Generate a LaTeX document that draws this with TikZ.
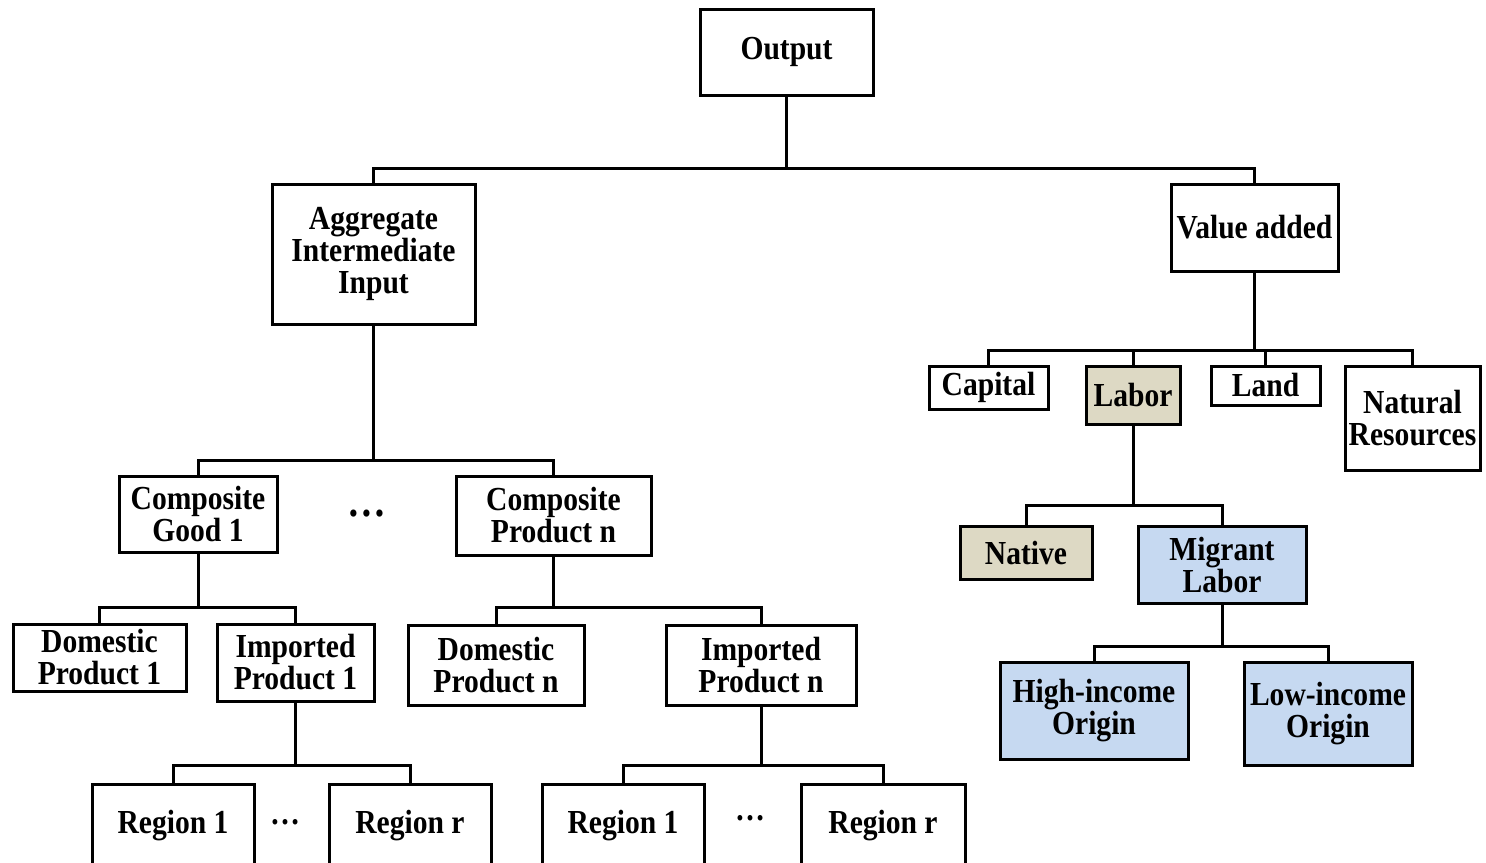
\documentclass[tikz,border=0pt]{standalone}
\usepackage{fontspec}
\setmainfont{Liberation Serif}[FakeStretch=0.88]
\definecolor{beige}{HTML}{DDD9C4}
\definecolor{lblue}{HTML}{C6D9F1}
\tikzset{
  box/.style={draw=black, line width=1.5pt, fill=white, inner sep=0pt, align=center,
    font=\fontsize{16.8}{16}\selectfont\bfseries},
  conn/.style={line width=1.5pt},
  dots/.style={font=\fontsize{17}{16}\selectfont\bfseries},
}
\begin{document}
\begin{tikzpicture}[x=0.5pt,y=-0.5pt]
\useasboundingbox (0,0) rectangle (1486,862);
\clip (0,0) rectangle (1486,862);
% top
\node[box, minimum width=86.5pt, minimum height=43pt] (out) at (786.5,52) {Output};
\node[box, minimum width=101.5pt, minimum height=70pt] (agg) at (373.5,254) {Aggregate\\Intermediate\\Input};
\node[box, minimum width=83.5pt, minimum height=43.5pt] (va) at (1254.5,227.5) {Value added};
% value added branch
\node[box, minimum width=59.5pt, minimum height=21.5pt] (cap) at (988.5,387.5) {Capital};
\node[box, fill=beige, minimum width=47pt, minimum height=29pt] (lab) at (1133,395) {Labor};
\node[box, minimum width=54.5pt, minimum height=19.5pt] (land) at (1265.5,385.5) {Land};
\node[box, minimum width=67.5pt, minimum height=52pt] (nat) at (1412.5,418) {Natural\\Resources};
\node[box, fill=beige, minimum width=66pt, minimum height=26.5pt] (nati) at (1026,552.5) {Native};
\node[box, fill=lblue, minimum width=84pt, minimum height=38.5pt] (mig) at (1222,564.5) {Migrant\\Labor};
\node[box, fill=lblue, minimum width=94pt, minimum height=48.5pt] (hi) at (1094,710.5) {High-income\\Origin};
\node[box, fill=lblue, minimum width=84pt, minimum height=51.5pt] (lo) at (1328,713.5) {Low-income\\Origin};
% intermediate branch
\node[box, minimum width=79pt, minimum height=38pt] (cg1) at (198,514) {Composite\\Good 1};
\node[box, minimum width=97.5pt, minimum height=39.5pt] (cpn) at (553.5,515.5) {Composite\\Product n};
\node[dots, font=\fontsize{22}{22}\selectfont\bfseries] (d1) at (367,514) {…};
\node[box, minimum width=86.5pt, minimum height=33.5pt] (dp1) at (99.5,657.5) {Domestic\\Product 1};
\node[box, minimum width=78.5pt, minimum height=38.5pt] (ip1) at (295.5,662.5) {Imported\\Product 1};
\node[box, minimum width=88pt, minimum height=40pt] (dpn) at (496,665) {Domestic\\Product n};
\node[box, minimum width=95pt, minimum height=40pt] (ipn) at (761,665) {Imported\\Product n};
\node[box, minimum width=81pt, minimum height=42pt] (r1a) at (173,826) {Region 1};
\node[box, minimum width=81pt, minimum height=42pt] (rra) at (410,826) {Region r};
\node[box, minimum width=81pt, minimum height=42pt] (r1b) at (623,826) {Region 1};
\node[box, minimum width=82pt, minimum height=42pt] (rrb) at (883,826) {Region r};
\node[dots] (d2) at (285,822) {…};
\node[dots] (d3) at (750,818) {…};
% connectors
\draw[conn] (out.south) -- (out.south |- 0,168) -| (agg.north);
\draw[conn] (out.south |- 0,168) -| (va.north);
\draw[conn] (va.south) -- (va.south |- 0,350) -| (cap.north);
\draw[conn] (va.south |- 0,350) -| (lab.north);
\draw[conn] (va.south |- 0,350) -| (land.north);
\draw[conn] (va.south |- 0,350) -| (nat.north);
\draw[conn] (lab.south) -- (lab.south |- 0,505) -| (nati.north);
\draw[conn] (lab.south |- 0,505) -| (mig.north);
\draw[conn] (mig.south) -- (mig.south |- 0,646) -| (hi.north);
\draw[conn] (mig.south |- 0,646) -| (lo.north);
\draw[conn] (agg.south) -- (agg.south |- 0,460) -| (cg1.north);
\draw[conn] (agg.south |- 0,460) -| (cpn.north);
\draw[conn] (cg1.south) -- (cg1.south |- 0,607) -| (dp1.north);
\draw[conn] (cg1.south |- 0,607) -| (ip1.north);
\draw[conn] (cpn.south) -- (cpn.south |- 0,607) -| (dpn.north);
\draw[conn] (cpn.south |- 0,607) -| (ipn.north);
\draw[conn] (ip1.south) -- (ip1.south |- 0,765) -| (r1a.north);
\draw[conn] (ip1.south |- 0,765) -| (rra.north);
\draw[conn] (ipn.south) -- (ipn.south |- 0,765) -| (r1b.north);
\draw[conn] (ipn.south |- 0,765) -| (rrb.north);
\end{tikzpicture}
\end{document}
